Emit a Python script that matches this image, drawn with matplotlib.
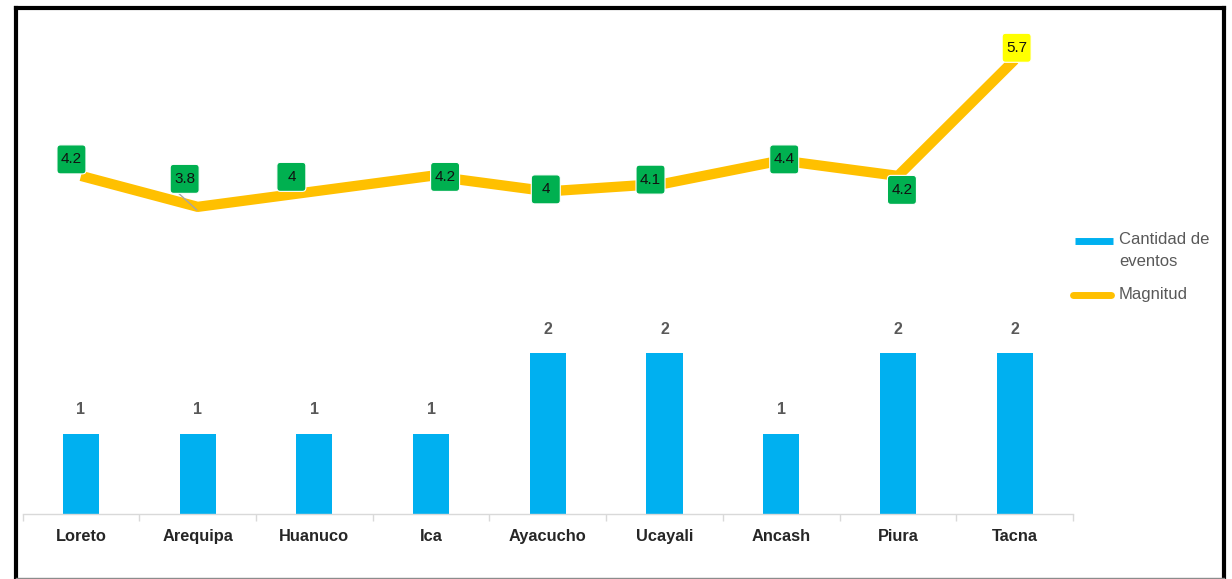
import matplotlib

matplotlib.use("Agg")
import matplotlib.pyplot as plt
import numpy as np
from matplotlib.lines import Line2D
from matplotlib.patches import FancyBboxPatch
from matplotlib.transforms import IdentityTransform, ScaledTranslation

# events per region and the largest magnitude recorded there
regiones = ["Loreto", "Arequipa", "Huanuco", "Ica", "Ayacucho", "Ucayali", "Ancash", "Piura", "Tacna"]
cantidad = [1, 1, 1, 1, 2, 2, 1, 2, 2]
magnitud = [4.2, 3.8, 4.0, 4.2, 4.0, 4.1, 4.4, 4.2, 5.7]

# label nudges in pixels (dx, dy up) for the magnitude boxes
label_nudge = [(-9.5, 16.5), (-13, 28), (-23, 14.5), (14, -1), (-2, 2),
               (-14, 4), (3, 1), (4, -14), (2, 12)]

W, H = 1232, 579
FONT = "Liberation Sans"
BLUE = "#00B0F0"
GOLD = "#FFC000"
GREY = "#595959"
BOX = 29  # label box side, px

fig = plt.figure(figsize=(W / 100, H / 100), dpi=100, facecolor="white")
left, right, bottom, top = 22.6, 1073, 514, 20
ax = fig.add_axes([left / W, (H - bottom) / H, (right - left) / W, (bottom - top) / H])
ax2 = ax.twinx()

x = np.arange(len(regiones))
ax.bar(x, cantidad, width=0.31, color=BLUE, zorder=2)
ax.set_xlim(-0.5, len(regiones) - 0.5)
ax.set_ylim(0, (bottom - top) / 80.5)

for xi, v in zip(x, cantidad):
    ax.annotate(f"{v}", (xi, v), xytext=(0, 17), textcoords="offset points",
                ha="center", va="center", fontsize=11.5, fontweight="bold",
                color=GREY, family=FONT)

# axis styling: only a light baseline with separators between categories
for s in ["left", "right", "top"]:
    ax.spines[s].set_visible(False)
    ax2.spines[s].set_visible(False)
ax2.spines["bottom"].set_visible(False)
ax.spines["bottom"].set_color("#D9D9D9")
ax.spines["bottom"].set_linewidth(1.0)
ax.set_yticks([])
ax2.set_yticks([])
ax.set_xticks(x)
ax.set_xticklabels(regiones, fontsize=11.8, fontweight="bold", color="#262626", family=FONT)
ax.set_xticks(np.arange(-0.5, len(regiones)), minor=True)
ax.tick_params(axis="x", which="major", length=0, pad=11)
ax.tick_params(axis="x", which="minor", length=5, color="#D9D9D9", width=1)

# magnitude line on the secondary axis
ax2.plot(x, magnitud, color=GOLD, lw=7.4, solid_joinstyle="round",
         solid_capstyle="butt", zorder=3)
ax2.set_ylim(-0.168, 6.214)

for i, (xi, v) in enumerate(zip(x, magnitud)):
    dx, dy = label_nudge[i]
    face = "#FFFF00" if v == max(magnitud) else "#00B050"
    # box positioned in pixels relative to the data point
    at_point = IdentityTransform() + ScaledTranslation(xi, v, ax2.transData)
    if dy > 20:
        ax2.add_artist(Line2D([dx - 6, -1], [dy - BOX / 2, -3], transform=at_point,
                              color="#A6A6A6", lw=1.0, zorder=4))
    box = FancyBboxPatch((dx - BOX / 2, dy - BOX / 2), BOX, BOX,
                         boxstyle="round,pad=0,rounding_size=3.5",
                         fc=face, ec="white", lw=0.8, transform=at_point, zorder=5)
    ax2.add_artist(box)
    ax2.annotate(f"{v:g}", (xi, v), xytext=(dx * 0.72, dy * 0.72), textcoords="offset points",
                 ha="center", va="center", fontsize=11, color="#111111", family=FONT,
                 zorder=6)

# legend drawn beside the plot, handle aligned with the first text line
def fx(px):
    return px / W


def fy(py):
    return (H - py) / H


fig.add_artist(Line2D([fx(1075), fx(1113)], [fy(240.5), fy(240.5)], color=BLUE,
                      lw=5.0, solid_capstyle="butt"))
fig.text(fx(1119), fy(240), "Cantidad de", fontsize=12, color=GREY, family=FONT,
         va="center", ha="left")
fig.text(fx(1119), fy(262), "eventos", fontsize=12, color=GREY, family=FONT,
         va="center", ha="left")
fig.add_artist(Line2D([fx(1073), fx(1111)], [fy(295), fy(295)], color=GOLD,
                      lw=5.0, solid_capstyle="round"))
fig.text(fx(1119), fy(295), "Magnitud", fontsize=12, color=GREY, family=FONT,
         va="center", ha="left")

# outer frame
frame_kw = dict(color="black", lw=3.0, solid_capstyle="projecting")
fig.add_artist(Line2D([fx(16), fx(16)], [fy(8), fy(578)], **frame_kw))
fig.add_artist(Line2D([fx(16), fx(1223.5)], [fy(8), fy(8)], **frame_kw))
fig.add_artist(Line2D([fx(1223.5), fx(1223.5)], [fy(8), fy(578)], **frame_kw))
fig.add_artist(Line2D([fx(16), fx(1223.5)], [fy(577.5), fy(577.5)], color="#8C8C8C", lw=1.0))

fig.savefig("out.png", dpi=100, facecolor="white")
